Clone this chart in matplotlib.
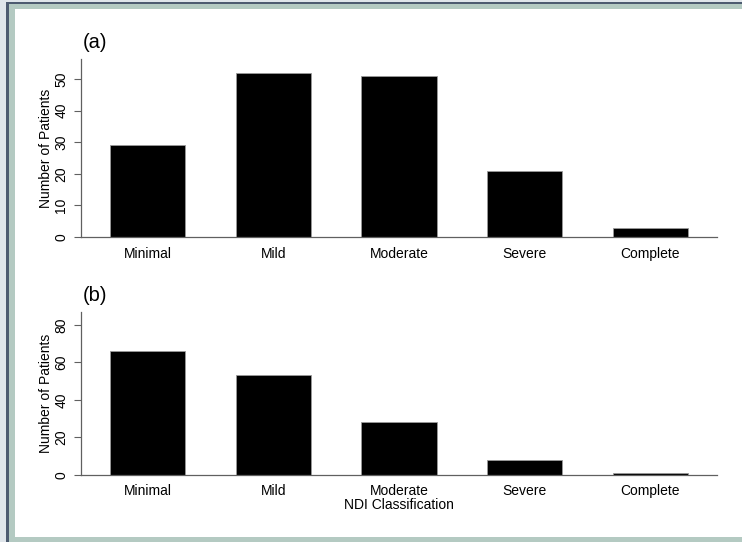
import matplotlib.pyplot as plt
from matplotlib.patches import Rectangle

plt.rcParams['font.family'] = ['Liberation Sans', 'DejaVu Sans']

categories = ['Minimal', 'Mild', 'Moderate', 'Severe', 'Complete']
counts_a = [29, 52, 51, 21, 3]
counts_b = [66, 53, 28, 8, 1]
yticks_a = [0, 10, 20, 30, 40, 50]
yticks_b = [0, 20, 40, 60, 80]

W, H = 742, 542
fig = plt.figure(figsize=(W / 100, H / 100), dpi=100)
fig.patch.set_facecolor('white')

# frame around the white panel (right side runs off the edge)
def band(x0, y0, x1, y1, color):
    fig.patches.append(Rectangle((x0 / W, 1 - y1 / H), (x1 - x0) / W, (y1 - y0) / H,
                                 transform=fig.transFigure, facecolor=color,
                                 edgecolor='none', zorder=-10))

band(0, 0, W + 10, H + 10, '#dfe5ea')
band(6, 2, W + 10, H + 10, '#4d5b70')
band(9, 4, W + 10, H + 10, '#b4cac2')
band(15, 9, W + 10, 537, 'white')

axis_grey = '#606060'


def panel(rect, values, ticks, ymax, tag, xlabel=None):
    ax = fig.add_axes(rect)
    ax.bar(range(len(categories)), values, width=0.6, color='black',
           edgecolor='#9a9a9a', linewidth=0.6)
    ax.set_xlim(-0.53, 4.53)
    ax.set_ylim(0, ymax)
    ax.set_xticks(range(len(categories)))
    ax.set_xticklabels(categories, fontsize=10)
    ax.set_yticks(ticks)
    ax.set_yticklabels([str(t) for t in ticks], fontsize=10, rotation=90, va='center')
    ax.tick_params(axis='x', length=0, pad=7)
    ax.tick_params(axis='y', length=5, width=0.8, color=axis_grey, pad=4)
    for s in ['top', 'right']:
        ax.spines[s].set_visible(False)
    for s in ['left', 'bottom']:
        ax.spines[s].set_color(axis_grey)
        ax.spines[s].set_linewidth(0.9)
    ax.set_ylabel('Number of Patients', fontsize=10, labelpad=1)
    if xlabel:
        ax.set_xlabel(xlabel, fontsize=10, labelpad=0)
    ax.text(0.002, 1.04, tag, transform=ax.transAxes, fontsize=14.5,
            ha='left', va='bottom')
    return ax


panel([81 / W, 1 - 237 / H, 636 / W, 178 / H], counts_a, yticks_a, 56.3, '(a)')
panel([81 / W, 1 - 474.7 / H, 636 / W, 163 / H], counts_b, yticks_b, 87, '(b)',
      xlabel='NDI Classification')

fig.savefig('out.png', dpi=100)
